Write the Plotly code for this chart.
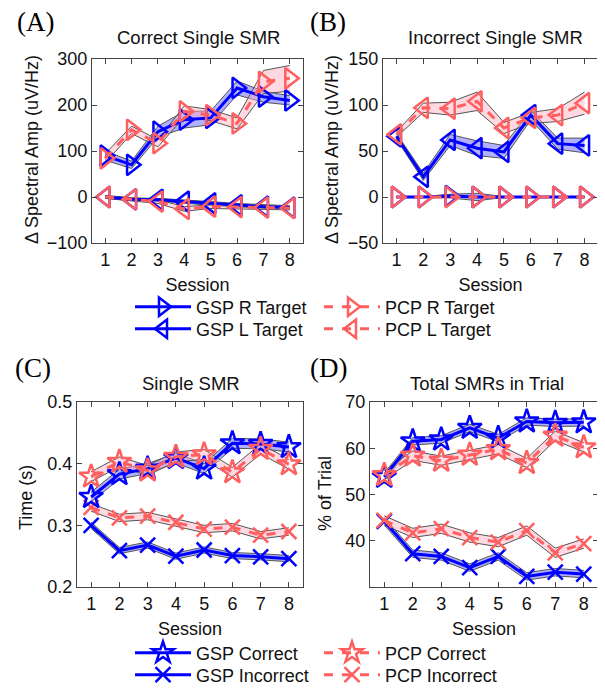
import plotly.graph_objects as go

sessions = [1, 2, 3, 4, 5, 6, 7, 8]

# Panel A: Correct Single SMR (delta spectral amp, uV/Hz)
a_gsp_r = [90, 70, 142, 168, 172, 237, 218, 210]
a_gsp_r_sem = [10, 8, 12, 18, 15, 15, 12, 10]
a_pcp_r = [84, 146, 117, 186, 178, 160, 250, 258]
a_pcp_r_sem = [10, 8, 8, 12, 12, 12, 25, 28]
a_gsp_l = [0, -5, -6, -10, -14, -18, -21, -23]
a_gsp_l_sem = [3, 3, 3, 4, 4, 4, 4, 4]
a_pcp_l = [0, -5, -10, -26, -21, -22, -23, -24]
a_pcp_l_sem = [3, 3, 4, 5, 4, 4, 4, 4]

# Panel B: Incorrect Single SMR
b_gsp_r = [0, 0, 1, 0, 0, 0, 0, 0]
b_gsp_r_sem = [0.5, 0.5, 2, 4, 0.5, 0.5, 0.5, 0.5]
b_pcp_r = [0, 0, 0, 0, 0, 0, 0, 0]
b_pcp_r_sem = [0.5, 0.5, 0.5, 0.5, 0.5, 0.5, 0.5, 0.5]
b_gsp_l = [66, 22, 62, 53, 49, 89, 58, 56]
b_gsp_l_sem = [3, 4, 6, 8, 7, 5, 6, 8]
b_pcp_l = [68, 97, 96, 104, 75, 86, 89, 102]
b_pcp_l_sem = [3, 5, 7, 10, 6, 6, 7, 12]

# Panel C: Single SMR time (s)
c_gsp_c = [0.346, 0.383, 0.392, 0.409, 0.392, 0.433, 0.432, 0.427]
c_gsp_c_sem = [0.008] * 8
c_pcp_c = [0.379, 0.403, 0.389, 0.411, 0.415, 0.386, 0.424, 0.399]
c_pcp_c_sem = [0.008] * 8
c_gsp_i = [0.300, 0.259, 0.268, 0.250, 0.260, 0.251, 0.249, 0.246]
c_gsp_i_sem = [0.005] * 8
c_pcp_i = [0.329, 0.312, 0.315, 0.305, 0.294, 0.297, 0.284, 0.290]
c_pcp_i_sem = [0.006] * 8

# Panel D: Total SMRs in trial (% of trial)
d_gsp_c = [53.8, 61.5, 61.9, 64.4, 62.2, 65.8, 65.5, 65.6]
d_gsp_c_sem = [0.8] * 8
d_pcp_c = [54.2, 58.4, 57.3, 58.6, 59.8, 56.8, 62.7, 60.2]
d_pcp_c_sem = [1.0] * 8
d_gsp_i = [44.2, 37.2, 36.6, 34.2, 36.6, 32.3, 33.2, 32.8]
d_gsp_i_sem = [0.8] * 8
d_pcp_i = [44.4, 41.7, 42.6, 40.7, 39.7, 42.2, 37.4, 39.4]
d_pcp_i_sem = [1.0] * 8

BLUE = "#0000FF"
PINK = "#FF5F5F"
BLUE_FILL = "rgba(60,60,255,0.40)"
PINK_FILL = "rgba(255,170,190,0.45)"
EDGE = "#555555"
FONT = "Liberation Sans, Arial, sans-serif"
FS = 18

fig = go.Figure()

panels = {
    "A": ("x", "y"),
    "B": ("x2", "y2"),
    "C": ("x3", "y3"),
    "D": ("x4", "y4"),
}


def band(xa, ya, mean, sem, fill):
    lo = [m - s for m, s in zip(mean, sem)]
    hi = [m + s for m, s in zip(mean, sem)]
    fig.add_trace(go.Scatter(x=sessions, y=lo, xaxis=xa, yaxis=ya, mode="lines",
                             line=dict(color=EDGE, width=1), showlegend=False,
                             hoverinfo="skip"))
    fig.add_trace(go.Scatter(x=sessions, y=hi, xaxis=xa, yaxis=ya, mode="lines",
                             line=dict(color=EDGE, width=1), fill="tonexty",
                             fillcolor=fill, showlegend=False, hoverinfo="skip"))


def series(xa, ya, mean, name, color, symbol, size, dash, legend, show):
    fig.add_trace(go.Scatter(
        x=sessions, y=mean, xaxis=xa, yaxis=ya, mode="lines+markers", name=name,
        line=dict(color=color, width=3, dash=dash),
        marker=dict(symbol=symbol, size=size, color=color,
                    line=dict(color=color, width=2.5)),
        showlegend=show, legend=legend))


# ---- Panels A & B
for key, data in (("A", (a_gsp_r, a_gsp_r_sem, a_pcp_r, a_pcp_r_sem, a_gsp_l, a_gsp_l_sem, a_pcp_l, a_pcp_l_sem)),
                  ("B", (b_gsp_r, b_gsp_r_sem, b_pcp_r, b_pcp_r_sem, b_gsp_l, b_gsp_l_sem, b_pcp_l, b_pcp_l_sem))):
    xa, ya = panels[key]
    gr, grs, pr, prs, gl, gls, pl, pls = data
    band(xa, ya, gr, grs, BLUE_FILL)
    band(xa, ya, pr, prs, PINK_FILL)
    band(xa, ya, gl, gls, BLUE_FILL)
    band(xa, ya, pl, pls, PINK_FILL)
    show = key == "A"
    series(xa, ya, gl, "GSP L Target", BLUE, "triangle-left-open", 18, "solid", "legend2", show)
    series(xa, ya, pl, "PCP L Target", PINK, "triangle-left-open", 18, "dash", "legend2", show)
    series(xa, ya, gr, "GSP R Target", BLUE, "triangle-right-open", 18, "solid", "legend", show)
    series(xa, ya, pr, "PCP R Target", PINK, "triangle-right-open", 18, "dash", "legend", show)

# ---- Panels C & D
for key, data in (("C", (c_gsp_c, c_gsp_c_sem, c_pcp_c, c_pcp_c_sem, c_gsp_i, c_gsp_i_sem, c_pcp_i, c_pcp_i_sem)),
                  ("D", (d_gsp_c, d_gsp_c_sem, d_pcp_c, d_pcp_c_sem, d_gsp_i, d_gsp_i_sem, d_pcp_i, d_pcp_i_sem))):
    xa, ya = panels[key]
    gc, gcs, pc, pcs, gi, gis, pi, pis = data
    band(xa, ya, gc, gcs, BLUE_FILL)
    band(xa, ya, pc, pcs, PINK_FILL)
    band(xa, ya, gi, gis, BLUE_FILL)
    band(xa, ya, pi, pis, PINK_FILL)
    show = key == "C"
    series(xa, ya, gi, "GSP Incorrect", BLUE, "x-thin-open", 15, "solid", "legend4", show)
    series(xa, ya, pi, "PCP Incorrect", PINK, "x-thin-open", 15, "dash", "legend4", show)
    series(xa, ya, gc, "GSP Correct", BLUE, "star-open", 18, "solid", "legend3", show)
    series(xa, ya, pc, "PCP Correct", PINK, "star-open", 18, "dash", "legend3", show)

# page body has an 8px margin; the figure is sized to fit the window
OFF = 8
W, H = 605 - OFF, 688 - OFF


def px(x):
    return (x - OFF) / W


def py(y):
    return 1 - (y - OFF) / H


axis_common = dict(showline=True, linecolor="#444444", linewidth=1, mirror="ticks",
                   ticks="inside", ticklen=5, tickcolor="#444444", showgrid=False,
                   zeroline=False, automargin=False,
                   tickfont=dict(size=FS, color="#111111", family=FONT))

xcommon = dict(axis_common, range=[0.5, 8.5], tickvals=sessions,
               title=dict(text="Session", font=dict(size=FS, color="#111111"), standoff=9))

layout = dict(
    width=W, height=H, margin=dict(l=0, r=0, t=0, b=0, autoexpand=False),
    paper_bgcolor="white", plot_bgcolor="white",
    font=dict(family=FONT, color="#111111"),
    xaxis=dict(xcommon, domain=[px(92), px(303)], anchor="y"),
    yaxis=dict(axis_common, domain=[py(243), py(59)], anchor="x", range=[-100, 300],
               tickvals=[-100, 0, 100, 200, 300]),
    xaxis2=dict(xcommon, domain=[px(383), px(598)], anchor="y2"),
    yaxis2=dict(axis_common, domain=[py(243), py(59)], anchor="x2", range=[-50, 150],
                tickvals=[-50, 0, 50, 100, 150]),
    xaxis3=dict(xcommon, domain=[px(77), px(303)], anchor="y3"),
    yaxis3=dict(axis_common, domain=[py(587), py(402)], anchor="x3", range=[0.2, 0.5],
                tickvals=[0.2, 0.3, 0.4, 0.5], tickformat=".1f"),
    xaxis4=dict(xcommon, domain=[px(370), px(598)], anchor="y4"),
    yaxis4=dict(axis_common, domain=[py(587), py(402)], anchor="x4", range=[30, 70],
                tickvals=[40, 50, 60, 70]),
)

leg_common = dict(orientation="h", xanchor="left", yanchor="middle",
                  font=dict(size=FS, color="#111111"), bgcolor="rgba(0,0,0,0)",
                  entrywidth=118, entrywidthmode="pixels", traceorder="normal",
                  itemwidth=56, itemclick=False, itemdoubleclick=False)
layout["legend"] = dict(leg_common, x=px(130), y=py(307))
layout["legend2"] = dict(leg_common, x=px(130), y=py(329))
layout["legend3"] = dict(leg_common, x=px(130), y=py(653))
layout["legend4"] = dict(leg_common, x=px(130), y=py(675))

fig.update_layout(**layout)

# Panel titles
titles = [("Correct Single SMR", 198, 38), ("Incorrect Single SMR", 495, 38),
          ("Single SMR", 191, 383), ("Total SMRs in Trial", 487, 383)]
for t, x, y in titles:
    fig.add_annotation(text=t, x=px(x), y=py(y), xref="paper", yref="paper",
                       showarrow=False, xanchor="center", yanchor="middle",
                       font=dict(size=18.5, color="#111111", family=FONT))

# Y-axis titles
ytitles = [("Δ Spectral Amp (uV/Hz)", 32, 150), ("Δ Spectral Amp (uV/Hz)", 332, 150),
           ("Time (s)", 26, 498), ("% of Trial", 325, 494)]
for t, x, y in ytitles:
    fig.add_annotation(text=t, x=px(x), y=py(y), xref="paper", yref="paper",
                       showarrow=False, xanchor="center", yanchor="middle", textangle=-90,
                       font=dict(size=FS, color="#111111", family=FONT))

# Panel letters
labels = [("(A)", 35, 22), ("(B)", 328, 22), ("(C)", 33, 368), ("(D)", 328, 368)]
for t, x, y in labels:
    fig.add_annotation(text=t, x=px(x), y=py(y), xref="paper", yref="paper",
                       showarrow=False, xanchor="center", yanchor="middle",
                       font=dict(size=27, color="#000000",
                                 family="Liberation Serif, Times New Roman, serif"))

fig.write_html("out.html")
